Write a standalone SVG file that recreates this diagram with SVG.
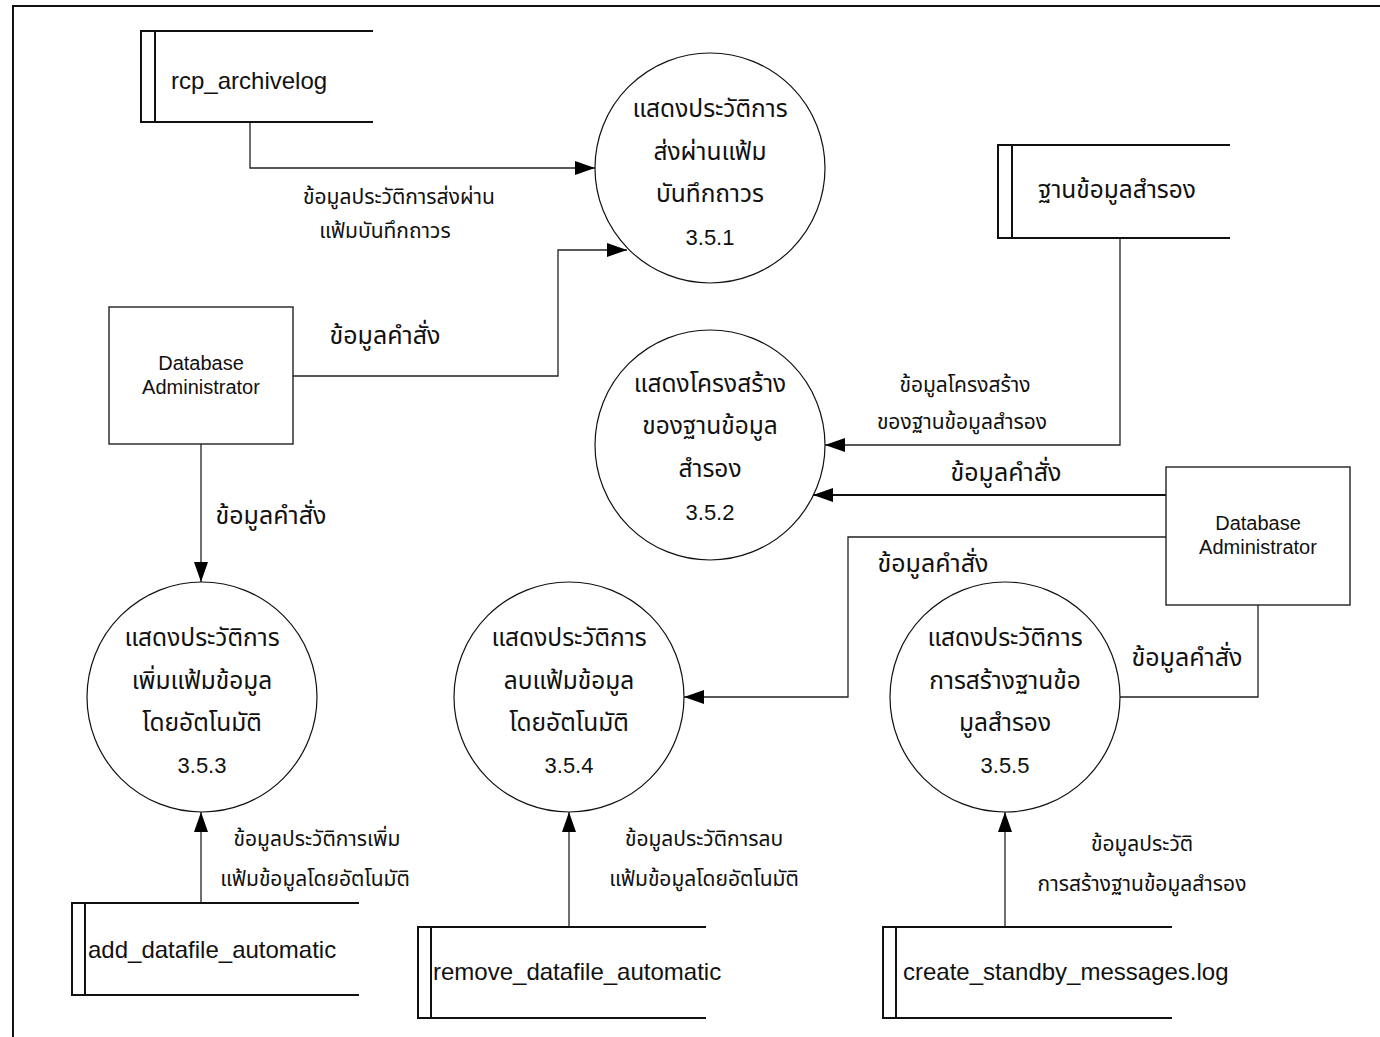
<svg xmlns="http://www.w3.org/2000/svg" width="1380" height="1037" viewBox="0 0 1380 1037">
  <style>
    .thai { font-family: "Noto Sans Thai", "Noto Sans", "DejaVu Sans", sans-serif; fill: #111; }
    .lat { font-family: "Liberation Sans", Arial, sans-serif; fill: #111; }
    .proc { fill: none; stroke: #111; stroke-width: 1.2; }
    .ent { fill: none; stroke: #222; stroke-width: 1.4; }
    .store { fill: none; stroke: #111; stroke-width: 2; }
    .flow { fill: none; stroke: #222; stroke-width: 1.3; }
    .flowb { fill: none; stroke: #111; stroke-width: 2.2; }
    .lbl { font-size: 21px; }
    .lblb { font-size: 25px; }
    .pt { font-size: 24.5px; }
    .pn { font-size: 22px; }
  </style>
  <defs>
    <marker id="arr" viewBox="0 0 20 14" refX="20" refY="7" markerWidth="20" markerHeight="14" markerUnits="userSpaceOnUse" orient="auto">
      <path d="M0,0 L20,7 L0,14 Z" fill="#000"/>
    </marker>
  </defs>

  <rect width="1380" height="1037" fill="#fff"/>

  <!-- frame -->
  <path d="M13,1037 L13,6 L1380,6" fill="none" stroke="#111" stroke-width="2"/>

  <!-- data flows -->
  <g id="connectors">
    <path class="flow" d="M250,122 L250,168 L595,168" marker-end="url(#arr)"/>
    <path class="flow" d="M293,376 L558,376 L558,250 L627,250" marker-end="url(#arr)"/>
    <path class="flow" d="M201,444 L201,582" marker-end="url(#arr)"/>
    <path class="flow" d="M1120,238 L1120,445 L825,445" marker-end="url(#arr)"/>
    <path class="flowb" d="M1166,495 L813,495" marker-end="url(#arr)"/>
    <path class="flow" d="M1166,537 L848,537 L848,697 L684,697" marker-end="url(#arr)"/>
    <path class="flow" d="M1258,605 L1258,697 L1120,697"/>
    <path class="flow" d="M201,903 L201,812" marker-end="url(#arr)"/>
    <path class="flow" d="M569,927 L569,812" marker-end="url(#arr)"/>
    <path class="flow" d="M1005,927 L1005,812" marker-end="url(#arr)"/>

    <text class="thai lbl" x="399" y="204" text-anchor="middle">ข้อมูลประวัติการส่งผ่าน</text>
    <text class="thai lbl" x="385" y="238" text-anchor="middle">แฟ้มบันทึกถาวร</text>
    <text class="thai lblb" x="385" y="344" text-anchor="middle">ข้อมูลคำสั่ง</text>
    <text class="thai lblb" x="271" y="524" text-anchor="middle">ข้อมูลคำสั่ง</text>
    <text class="thai lbl" x="965" y="392" text-anchor="middle">ข้อมูลโครงสร้าง</text>
    <text class="thai lbl" x="962" y="429" text-anchor="middle">ของฐานข้อมูลสำรอง</text>
    <text class="thai lblb" x="1006" y="481" text-anchor="middle">ข้อมูลคำสั่ง</text>
    <text class="thai lblb" x="933" y="572" text-anchor="middle">ข้อมูลคำสั่ง</text>
    <text class="thai lblb" x="1187" y="666" text-anchor="middle">ข้อมูลคำสั่ง</text>
    <text class="thai lbl" x="317" y="846" text-anchor="middle">ข้อมูลประวัติการเพิ่ม</text>
    <text class="thai lbl" x="315" y="886" text-anchor="middle">แฟ้มข้อมูลโดยอัตโนมัติ</text>
    <text class="thai lbl" x="704" y="846" text-anchor="middle">ข้อมูลประวัติการลบ</text>
    <text class="thai lbl" x="704" y="886" text-anchor="middle">แฟ้มข้อมูลโดยอัตโนมัติ</text>
    <text class="thai lbl" x="1142" y="851" text-anchor="middle">ข้อมูลประวัติ</text>
    <text class="thai lbl" x="1142" y="891" text-anchor="middle">การสร้างฐานข้อมูลสำรอง</text>
  </g>

  <!-- data stores -->
  <g id="store-rcp-archivelog">
    <path class="store" d="M373,31 L141,31 L141,122 L373,122 M155,31 L155,122"/>
    <text class="lat" font-size="24" x="171" y="89">rcp_archivelog</text>
  </g>
  <g id="store-standby-db">
    <path class="store" d="M1230,145 L998,145 L998,238 L1230,238 M1012,145 L1012,238"/>
    <text class="thai pt" x="1038" y="198">ฐานข้อมูลสำรอง</text>
  </g>
  <g id="store-add-datafile">
    <path class="store" d="M359,903 L72,903 L72,995 L359,995 M85,903 L85,995"/>
    <text class="lat" font-size="24" x="88" y="958">add_datafile_automatic</text>
  </g>
  <g id="store-remove-datafile">
    <path class="store" d="M706,927 L418,927 L418,1018 L706,1018 M431,927 L431,1018"/>
    <text class="lat" font-size="24" x="433" y="980">remove_datafile_automatic</text>
  </g>
  <g id="store-create-standby">
    <path class="store" d="M1172,927 L883,927 L883,1018 L1172,1018 M896,927 L896,1018"/>
    <text class="lat" font-size="24" x="903" y="980">create_standby_messages.log</text>
  </g>

  <!-- external entities -->
  <g id="dba-left">
    <rect class="ent" x="109" y="307" width="184" height="137"/>
    <text class="lat" font-size="20" x="201" y="370" text-anchor="middle">Database</text>
    <text class="lat" font-size="20" x="201" y="394" text-anchor="middle">Administrator</text>
  </g>
  <g id="dba-right">
    <rect class="ent" x="1166" y="467" width="184" height="138"/>
    <text class="lat" font-size="20" x="1258" y="530" text-anchor="middle">Database</text>
    <text class="lat" font-size="20" x="1258" y="554" text-anchor="middle">Administrator</text>
  </g>

  <!-- processes -->
  <g id="p351">
    <circle class="proc" cx="710" cy="168" r="115"/>
    <text class="thai pt" x="710" y="117" text-anchor="middle">แสดงประวัติการ</text>
    <text class="thai pt" x="710" y="160" text-anchor="middle">ส่งผ่านแฟ้ม</text>
    <text class="thai pt" x="710" y="202" text-anchor="middle">บันทึกถาวร</text>
    <text class="lat pn" x="710" y="245" text-anchor="middle">3.5.1</text>
  </g>
  <g id="p352">
    <circle class="proc" cx="710" cy="445" r="115"/>
    <text class="thai pt" x="710" y="392" text-anchor="middle">แสดงโครงสร้าง</text>
    <text class="thai pt" x="710" y="434" text-anchor="middle">ของฐานข้อมูล</text>
    <text class="thai pt" x="710" y="477" text-anchor="middle">สำรอง</text>
    <text class="lat pn" x="710" y="520" text-anchor="middle">3.5.2</text>
  </g>
  <g id="p353">
    <circle class="proc" cx="202" cy="697" r="115"/>
    <text class="thai pt" x="202" y="646" text-anchor="middle">แสดงประวัติการ</text>
    <text class="thai pt" x="202" y="689" text-anchor="middle">เพิ่มแฟ้มข้อมูล</text>
    <text class="thai pt" x="202" y="731" text-anchor="middle">โดยอัตโนมัติ</text>
    <text class="lat pn" x="202" y="773" text-anchor="middle">3.5.3</text>
  </g>
  <g id="p354">
    <circle class="proc" cx="569" cy="697" r="115"/>
    <text class="thai pt" x="569" y="646" text-anchor="middle">แสดงประวัติการ</text>
    <text class="thai pt" x="569" y="689" text-anchor="middle">ลบแฟ้มข้อมูล</text>
    <text class="thai pt" x="569" y="731" text-anchor="middle">โดยอัตโนมัติ</text>
    <text class="lat pn" x="569" y="773" text-anchor="middle">3.5.4</text>
  </g>
  <g id="p355">
    <circle class="proc" cx="1005" cy="697" r="115"/>
    <text class="thai pt" x="1005" y="646" text-anchor="middle">แสดงประวัติการ</text>
    <text class="thai pt" x="1005" y="689" text-anchor="middle">การสร้างฐานข้อ</text>
    <text class="thai pt" x="1005" y="731" text-anchor="middle">มูลสำรอง</text>
    <text class="lat pn" x="1005" y="773" text-anchor="middle">3.5.5</text>
  </g>
</svg>
